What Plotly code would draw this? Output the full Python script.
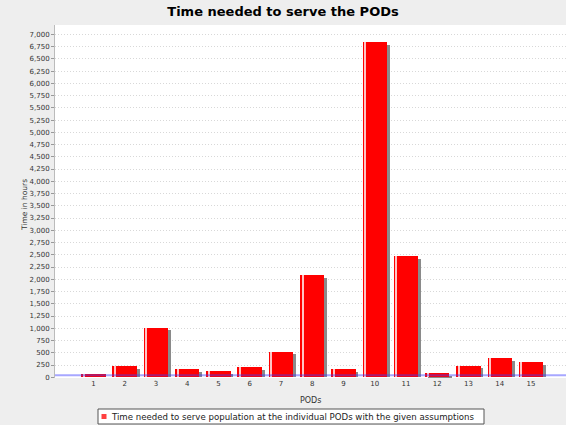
import plotly.graph_objects as go

# Service time per point of dispensing (hours)
pods = list(range(1, 16))
pod_labels = [str(p) for p in pods]
hours = [60, 225, 1015, 170, 130, 205, 525, 2090, 165, 6840, 2480, 80, 240, 395, 310]
y_ticks = list(range(0, 7001, 250))
marker_level = 40

series_name = "Time needed to serve population at the individual PODs with the given assumptions"

BAR_W = 0.78
SHADOW_DX = 0.09
SHADOW_DROP = 60
FONT = "DejaVu Sans"

# plot area in pixels (figure 566 x 425)
L, R, T, B = 55, 566, 25, 378
PW, PH = R - L, B - T


def px_x(x):
    return (x - L) / PW


def px_y(y):
    return (B - y) / PH


fig = go.Figure()

# drop shadow behind each bar
fig.add_trace(go.Bar(
    x=pods, y=[max(v - SHADOW_DROP, 0) for v in hours],
    width=BAR_W, offset=-BAR_W / 2 + SHADOW_DX,
    marker=dict(color="#8a8a8a", line=dict(width=0)),
    showlegend=False, hoverinfo="skip",
))

# main bars
fig.add_trace(go.Bar(
    x=pods, y=hours, name=series_name,
    width=BAR_W, offset=-BAR_W / 2,
    marker=dict(color="#ff0000", line=dict(width=0)),
    showlegend=False,
))

# light highlight stripe near the left edge of each bar
fig.add_trace(go.Bar(
    x=pods, y=hours,
    width=0.065, offset=-BAR_W / 2 + 0.05,
    marker=dict(color="#ffc4c4", line=dict(width=0)),
    showlegend=False, hoverinfo="skip",
))

# horizontal marker line
fig.add_shape(type="line", xref="paper", x0=0, x1=1, yref="y",
              y0=marker_level, y1=marker_level,
              line=dict(color="rgba(60,60,255,0.45)", width=2), layer="above")

# legend box below the chart
fig.add_shape(type="rect", xref="paper", yref="paper",
              x0=px_x(98), x1=px_x(484), y0=px_y(409), y1=px_y(424),
              fillcolor="#ffffff", line=dict(color="#555555", width=1))
fig.add_shape(type="rect", xref="paper", yref="paper",
              x0=px_x(101.5), x1=px_x(106.5), y0=px_y(414), y1=px_y(419),
              fillcolor="#ff4040", line=dict(width=0))
fig.add_annotation(text=series_name, xref="paper", yref="paper",
                   x=px_x(109), y=px_y(416.5), xanchor="left", yanchor="middle",
                   showarrow=False, font=dict(size=8.6, color="#222222"))

# axis titles
fig.add_annotation(text="PODs", xref="paper", yref="paper",
                   x=0.5, y=px_y(400), xanchor="center", yanchor="middle",
                   showarrow=False, font=dict(size=8, color="#333333"))
fig.add_annotation(text="Time in hours", xref="paper", yref="paper",
                   x=px_x(24), y=px_y(205), xanchor="center", yanchor="middle",
                   textangle=-90, showarrow=False,
                   font=dict(size=7.5, color="#333333"))

fig.update_layout(
    width=566, height=425,
    margin=dict(l=L, r=566 - R, t=T, b=425 - B),
    paper_bgcolor="#eeeeee", plot_bgcolor="#ffffff",
    barmode="overlay", bargap=0, showlegend=False,
    font=dict(family=FONT, size=7, color="#444444"),
    title=dict(text="<b>Time needed to serve the PODs</b>",
               font=dict(family=FONT, size=13, color="#000000"),
               x=0.5, xanchor="center", xref="container",
               y=1 - 11 / 425, yanchor="middle", yref="container"),
    xaxis=dict(
        range=[-0.228, 16.12], tickmode="array", tickvals=pods, ticktext=pod_labels,
        showgrid=False, zeroline=False, ticks="", showline=False,
        tickfont=dict(size=7, color="#333333"),
    ),
    yaxis=dict(
        range=[-15, 7190], tickmode="array", tickvals=y_ticks,
        tickformat=",", showgrid=True, gridcolor="#d8d8d8", griddash="1px,2px",
        gridwidth=1, zeroline=False, ticks="outside", ticklen=3,
        tickcolor="#999999", showline=True, linecolor="#bbbbbb", mirror=True,
        tickfont=dict(size=7, color="#333333"),
    ),
)

fig.write_html("out.html")
